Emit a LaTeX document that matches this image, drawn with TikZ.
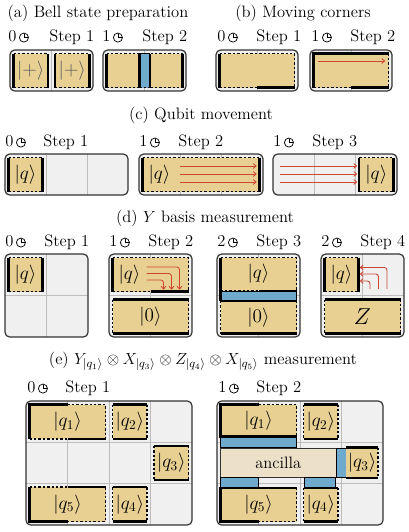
\documentclass[tikz,border=0pt]{standalone}
\usepackage{amsmath}
\usetikzlibrary{arrows.meta}
\definecolor{patchc}{RGB}{232,207,146}
\definecolor{bluec}{RGB}{111,170,204}
\definecolor{bgc}{RGB}{240,240,240}
\definecolor{gridc}{RGB}{188,188,188}
\definecolor{redc}{RGB}{205,70,50}
\definecolor{ancc}{RGB}{237,224,200}
\newcommand{\clk}{\tikz[baseline=-0.55ex,x=1pt,y=1pt]{\draw[line width=0.55pt] (0pt,0pt) circle (3.4pt); \draw[line width=0.55pt] (0pt,2.7pt)--(0pt,0pt)--(2.7pt,0pt);}}
\newcommand{\pbox}[5]{\fill[bgc,rounded corners=3.5pt] (#1,#2) rectangle (#3,#4); #5 \draw[boxline] (#1,#2) rectangle (#3,#4);}
\newcommand{\patchV}[4]{\fill[patchc] (#1,#2) rectangle (#3,#4); \draw[dsh] (#1,#2)--(#3,#2) (#1,#4)--(#3,#4); \draw[sol] (#1,#2)--(#1,#4) (#3,#2)--(#3,#4);}
\newcommand{\patchH}[4]{\fill[patchc] (#1,#2) rectangle (#3,#4); \draw[dsh] (#1,#2)--(#1,#4) (#3,#2)--(#3,#4); \draw[sol] (#1,#2)--(#3,#2) (#1,#4)--(#3,#4);}
\tikzset{
 boxline/.style={draw=black!80,line width=0.9pt,rounded corners=3.5pt},
 gridl/.style={draw=gridc,line width=0.7pt},
 sol/.style={draw=black,line width=1.6pt},
 dsh/.style={draw=black,line width=1.3pt,dash pattern=on 1.8pt off 1.5pt},
 bluebar/.style={fill=bluec,draw=black,line width=0.5pt},
 redarr/.style={draw=redc,line width=0.65pt,-{To[length=2.6pt,width=4pt]}},
 ttl/.style={font=\fontsize{12.4}{15}\selectfont,inner sep=0pt},
 lbl/.style={font=\fontsize{12.4}{15}\selectfont,inner sep=0pt,anchor=base west},
 ket/.style={font=\fontsize{14}{16}\selectfont,inner sep=0pt},
 ancst/.style={fill=ancc,draw=black!80,line width=0.5pt},
}
\begin{document}
\begin{tikzpicture}[x=0.75pt,y=-0.75pt]
\useasboundingbox (0,0) rectangle (408,532);
% ---------- titles
\node[ttl,anchor=base] (ta) at (98,17.5) {(a) Bell state preparation};
\node[ttl,anchor=base] (tb) at (303,17.5) {(b) Moving corners};
\node[ttl,anchor=base] (tc) at (201,119.5) {(c) Qubit movement};
\node[ttl,anchor=base] (td) at (205,222.5) {(d) $Y$ basis measurement};
\node[ttl,anchor=base] (te) at (203,364.5) {(e) $Y_{|q_1\rangle}\otimes X_{|q_3\rangle}\otimes Z_{|q_4\rangle}\otimes X_{|q_5\rangle}$ measurement};
% ---------- step labels
\node[lbl] (la1) at (8,41.5) {0\hspace{2pt}\clk};
\node[lbl] (sa1) at (49,41.5) {Step 1};
\node[lbl] (la2) at (102,41.5) {1\hspace{2pt}\clk};
\node[lbl] (sa2) at (142,41.5) {Step 2};
\node[lbl] (lb1) at (217,41.5) {0\hspace{2pt}\clk};
\node[lbl] (sb1) at (256,41.5) {Step 1};
\node[lbl] (lb2) at (311,41.5) {1\hspace{2pt}\clk};
\node[lbl] (sb2) at (350,41.5) {Step 2};
\node[lbl] (lc1) at (5,146.5) {0\hspace{2pt}\clk};
\node[lbl] (sc1) at (43,146.5) {Step 1};
\node[lbl] (lc2) at (139,146.5) {1\hspace{2pt}\clk};
\node[lbl] (sc2) at (178,146.5) {Step 2};
\node[lbl] (lc3) at (273,146.5) {1\hspace{2pt}\clk};
\node[lbl] (sc3) at (312,146.5) {Step 3};
\node[lbl] (ld1) at (5,246.5) {0\hspace{2pt}\clk};
\node[lbl] (sd1) at (44,246.5) {Step 1};
\node[lbl] (ld2) at (109,246.5) {1\hspace{2pt}\clk};
\node[lbl] (sd2) at (148,246.5) {Step 2};
\node[lbl] (ld3) at (217,246.5) {2\hspace{2pt}\clk};
\node[lbl] (sd3) at (256,246.5) {Step 3};
\node[lbl] (ld4) at (321,246.5) {2\hspace{2pt}\clk};
\node[lbl] (sd4) at (360,246.5) {Step 4};
\node[lbl] (le1) at (27,392.5) {0\hspace{2pt}\clk};
\node[lbl] (se1) at (65,392.5) {Step 1};
\node[lbl] (le2) at (218,392.5) {1\hspace{2pt}\clk};
\node[lbl] (se2) at (256,392.5) {Step 2};
% ---------- (a)
\pbox{10}{50}{93}{91}{\draw[gridl] (51.5,50)--(51.5,91);}
\patchV{13.5}{53.5}{48}{87.5}
\node[ket,text=black!65] (pa1) at (30.75,70.5) {$|+\rangle$};
\patchV{55}{53.5}{89.5}{87.5}
\node[ket,text=black!65] (pa2) at (72.25,70.5) {$|+\rangle$};
\pbox{103}{50}{186}{91}{\draw[gridl] (144.5,50)--(144.5,91);}
\patchV{106.5}{53.5}{182.5}{87.5}
\fill[bluec] (139.5,53.5) rectangle (150,87.5);
\draw[dsh] (139.5,53.5)--(150,53.5) (139.5,87.5)--(150,87.5);
\draw[sol] (139.5,53.5)--(139.5,87.5) (150,53.5)--(150,87.5);
% ---------- (b)
\pbox{216}{50}{298}{91}{\draw[gridl] (257,50)--(257,91);}
\fill[patchc] (219.5,53.5) rectangle (294.5,87.5);
\draw[dsh] (219.5,53.5)--(294.5,53.5) (294.5,53.5)--(294.5,87.5) (219.5,87.5)--(257,87.5);
\draw[sol] (219.5,53.5)--(219.5,87.5) (257,87.5)--(294.5,87.5);
\pbox{310}{50}{392}{91}{\draw[gridl] (351,50)--(351,91);}
\fill[patchc] (313.5,53.5) rectangle (388.5,87.5);
\draw[dsh] (388.5,53.5)--(388.5,87.5) (313.5,87.5)--(351,87.5);
\draw[sol] (313.5,87.5)--(313.5,53.5)--(388.5,53.5) (351,87.5)--(388.5,87.5);
\coordinate (b2s) at (318,61); \coordinate (b2e) at (385,61);
\draw[redarr] (b2s)--(b2e);
% ---------- (c)
\pbox{5}{154}{128}{195}{\draw[gridl] (46,154)--(46,195) (87,154)--(87,195);}
\patchV{8.5}{157.5}{42.5}{191.5}
\node[ket] (qc1) at (25.5,174.5) {$|q\rangle$};
\pbox{139}{154}{263}{195}{\draw[gridl] (180.3,154)--(180.3,195) (221.7,154)--(221.7,195);}
\patchV{142.5}{157.5}{259.5}{191.5}
\node[ket] (qc2) at (159.5,174.5) {$|q\rangle$};
\foreach \yy in {166,174,182} {\draw[redarr] (180,\yy)--(256.5,\yy);}
\pbox{273}{154}{397}{195}{\draw[gridl] (314.3,154)--(314.3,195) (355.7,154)--(355.7,195);}
\patchV{359.2}{157.5}{393.5}{191.5}
\node[ket] (qc3) at (376.3,174.5) {$|q\rangle$};
\foreach \yy in {166,174,182} {\draw[redarr] (280,\yy)--(357,\yy);}
% ---------- (d)
\pbox{5}{254}{88}{337}{\draw[gridl] (46.5,254)--(46.5,337) (5,295.5)--(88,295.5);}
\patchV{8.5}{257.5}{42.5}{291.5}
\node[ket] (qd1) at (25.5,274.5) {$|q\rangle$};
\pbox{109}{254}{192}{337}{\draw[gridl] (150.5,254)--(150.5,337) (109,295.5)--(192,295.5);}
\fill[patchc] (112.5,257.5) rectangle (188.5,291.5);
\draw[dsh] (112.5,257.5)--(188.5,257.5)--(188.5,291.5) (112.5,291.5)--(150.5,291.5);
\draw[sol] (112.5,257.5)--(112.5,291.5) (150.5,291.5)--(188.5,291.5);
\node[ket] (qd2) at (129.5,274.5) {$|q\rangle$};
\draw[redarr,rounded corners=2pt] (146.5,267)--(179.5,267)--(179.5,289.5);
\draw[redarr,rounded corners=2pt] (146.5,273.5)--(171.5,273.5)--(171.5,289.5);
\draw[redarr,rounded corners=2pt] (146.5,280)--(163.5,280)--(163.5,289.5);
\patchH{112.5}{299.5}{188.5}{333.5}
\node[ket] (zd2) at (150.5,316.5) {$|0\rangle$};
\pbox{217}{254}{300}{337}{\draw[gridl] (258.5,254)--(258.5,337) (217,295.5)--(300,295.5);}
\fill[patchc] (220.5,257.5) rectangle (296.5,291);
\fill[patchc] (220.5,301) rectangle (296.5,333.5);
\draw[bluebar] (220.5,291) rectangle (296.5,301);
\draw[dsh] (220.5,257.5)--(296.5,257.5)--(296.5,291) (220.5,291)--(258.5,291);
\draw[dsh] (220.5,301)--(220.5,333.5) (296.5,301)--(296.5,333.5);
\draw[sol] (220.5,257.5)--(220.5,301) (258.5,291)--(296.5,291) (220.5,301)--(296.5,301) (220.5,333.5)--(296.5,333.5);
\node[ket] (qd3) at (258.5,274) {$|q\rangle$};
\node[ket] (zd3) at (258.5,317.5) {$|0\rangle$};
\pbox{321}{254}{404}{337}{\draw[gridl] (362.5,254)--(362.5,337) (321,295.5)--(404,295.5);}
\patchV{324.5}{257.5}{358.5}{291.5}
\node[ket] (qd4) at (341.5,274.5) {$|q\rangle$};
\draw[redarr,rounded corners=2pt] (387,289)--(387,267.5)--(360,267.5);
\draw[redarr,rounded corners=2pt] (378.5,289)--(378.5,274)--(360,274);
\draw[redarr,rounded corners=2pt] (370,289)--(370,281)--(360,281);
\patchH{324.5}{299.5}{400.5}{333.5}
\node[font=\fontsize{18}{20}\selectfont,inner sep=0pt] (zz) at (362.5,316.5) {$Z$};
% ---------- (e) step 1
\pbox{26}{401}{192}{525}{\draw[gridl] (67.5,401)--(67.5,525) (109,401)--(109,525) (150.5,401)--(150.5,525) (26,442.3)--(192,442.3) (26,483.7)--(192,483.7);}
\fill[patchc] (29.5,404.5) rectangle (105.5,438.8);
\draw[dsh] (67.5,404.5)--(105.5,404.5)--(105.5,438.8) (29.5,438.8)--(67.5,438.8);
\draw[sol] (67.5,404.5)--(29.5,404.5)--(29.5,438.8) (67.5,438.8)--(105.5,438.8);
\node[ket] (e1q1) at (67.5,421.6) {$|q_1\rangle$};
\patchH{112.5}{404.5}{147}{438.8}
\node[ket] (e1q2) at (129.75,421.6) {$|q_2\rangle$};
\patchH{154}{445.8}{188.5}{480.2}
\node[ket] (e1q3) at (171.25,463) {$|q_3\rangle$};
\fill[patchc] (29.5,487.2) rectangle (105.5,521.5);
\draw[dsh] (29.5,487.2)--(67.5,487.2) (105.5,487.2)--(105.5,521.5)--(67.5,521.5);
\draw[sol] (67.5,487.2)--(105.5,487.2) (29.5,487.2)--(29.5,521.5)--(67.5,521.5);
\node[ket] (e1q5) at (67.5,504.3) {$|q_5\rangle$};
\patchH{112.5}{487.2}{147}{521.5}
\node[ket] (e1q4) at (129.75,504.3) {$|q_4\rangle$};
% ---------- (e) step 2
\pbox{217}{401}{383}{525}{\draw[gridl] (258.5,401)--(258.5,525) (300,401)--(300,525) (341.5,401)--(341.5,525) (217,442.3)--(383,442.3) (217,483.7)--(383,483.7);}
\fill[patchc] (220.5,404.5) rectangle (296.5,436.5);
\draw[bluebar] (220.5,436.5) rectangle (296.5,447);
\draw[dsh] (258.5,404.5)--(296.5,404.5)--(296.5,436.5);
\draw[sol] (258.5,404.5)--(220.5,404.5)--(220.5,436.5)--(296.5,436.5);
\node[ket] (e2q1) at (258.5,420.5) {$|q_1\rangle$};
\patchH{303.5}{404.5}{338}{438.8}
\node[ket] (e2q2) at (320.75,421.6) {$|q_2\rangle$};
\draw[ancst] (220.5,448) rectangle (336,477);
\node[ttl] (anc) at (278.25,462.5) {ancilla};
\draw[bluebar] (336,448) rectangle (346,477);
\fill[patchc] (346,447.5) rectangle (378,478);
\draw[dsh] (378,447.5)--(378,478);
\draw[sol] (346,447.5)--(378,447.5) (346,478)--(378,478);
\node[ket] (e2q3) at (362,463) {$|q_3\rangle$};
\draw[bluebar] (220.5,477) rectangle (258.5,488);
\draw[bluebar] (304.5,477) rectangle (335,488);
\fill[patchc] (220.5,488) rectangle (296.5,521.5);
\draw[dsh] (296.5,488)--(296.5,521.5)--(258.5,521.5);
\draw[sol] (296.5,488)--(220.5,488)--(220.5,521.5)--(258.5,521.5);
\node[ket] (e2q5) at (258.5,504.3) {$|q_5\rangle$};
\patchH{303.5}{488}{338}{521.5}
\node[ket] (e2q4) at (320.75,504.3) {$|q_4\rangle$};
\end{tikzpicture}
\end{document}
